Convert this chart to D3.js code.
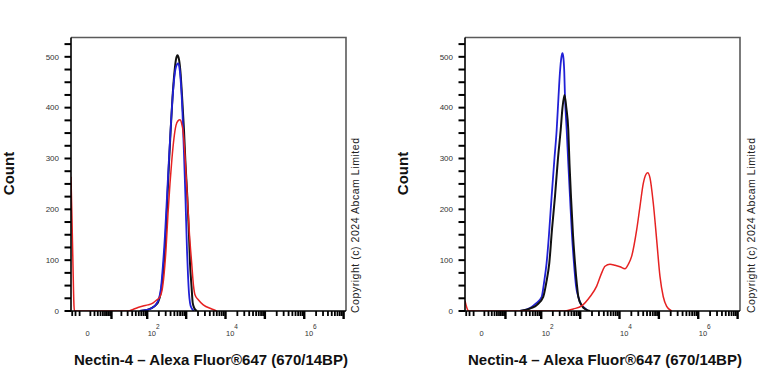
<!DOCTYPE html>
<html>
<head>
<meta charset="utf-8">
<script src="https://cdn.jsdelivr.net/npm/d3@7"></script>
<style>
body { margin:0; background:#fff; }
svg { display:block; font-family: Arial, "Liberation Sans", sans-serif; }
</style>
</head>
<body>
<div id="chart"></div>
<script>
// axis ticks and labels
var yTickValues = [0, 100, 200, 300, 400, 500];
var xLabelValues = [0, 1e2, 1e4, 1e6];
var xLabelExps = ["", "2", "4", "6"];
var xAxisTitle = "Nectin-4 \u2013 Alexa Fluor\u00ae647 (670/14BP)";
var yAxisTitle = "Count";
var copyright = "Copyright (c) 2024 Abcam Limited";

// left panel: [intensity, count]
var leftBlack = [[64,0],[96,2],[133,6],[169,12],[193,18],[223,35],[260,80],[296,140],[333,225],[364,290],
  [402,356],[448,420],[503,470],[550,495],[600,503],[656,495],[716,470],[782,425],[880,356],[961,290],
  [1069,225],[1180,150],[1252,94],[1366,50],[1467,16],[1629,5],[1886,0]];
var leftBlue = [[64,0],[98,2],[133,6],[169,13],[196,22],[227,45],[255,90],[288,150],[324,225],[364,300],
  [410,370],[461,430],[518,470],[583,485],[629,487],[675,478],[738,445],[805,390],[880,310],[961,220],
  [1049,120],[1114,70],[1180,35],[1252,16],[1366,6],[1582,0]];
var leftRed = [[-3.42,264],[-3.07,180],[-2.75,90],[-2.44,10],[-2.29,0],[31,0],[42,3],[57,7],[78,10],
  [104,12],[143,16],[179,22],[214,28],[241,40],[271,70],[305,120],[343,190],[386,250],[434,300],
  [489,340],[550,365],[618,374],[695,376],[760,370],[844,350],[933,305],[1069,225],[1215,150],
  [1382,94],[1536,50],[1676,32],[2033,22],[2726,12],[4457,4],[5970,0]];

// right panel
var rightBlue = [[27,0],[56,8],[73,15],[103,28],[118,55],[138,94],[159,150],[186,225],[220,300],[251,356],
  [279,420],[305,470],[333,500],[354,507],[375,497],[393,470],[410,421],[453,356],[498,290],[550,225],
  [618,150],[695,94],[782,50],[896,28],[1019,15],[1201,8],[1609,0]];
var rightBlack = [[27,0],[56,6],[77,12],[113,28],[135,55],[162,94],[190,160],[227,225],[271,300],[318,356],
  [354,400],[398,425],[443,400],[498,356],[534,290],[583,225],[656,150],[738,94],[830,50],[896,28],
  [1114,10],[1406,3],[1776,0]];
var rightRed = [[-3.42,20],[-3.07,12],[-2.6,3],[-2.15,0],[410,0],[667,4],[1093,10],[1776,28],[2632,49],
  [3528,75],[4280,88],[5732,92],[7686,90],[10300,87],[13795,83],[16738,92],[20413,108],[27350,160],
  [33165,206],[40215,251],[47105,269],[52000,272],[59500,262],[72175,212],[87970,140],[106700,68],
  [129400,28],[157900,9],[211600,0]];

var width = 768, height = 384;
var pw = 275, ph = 273.5, top0 = 37.5;

var svg = d3.select("#chart").append("svg")
    .attr("width", width)
    .attr("height", height);

var x = d3.scaleSymlog().constant(2.7)
    .domain([-3.42, 1.15e7])
    .range([0, pw]);

var y = d3.scaleLinear()
    .domain([0, 538])
    .range([ph, 0]);

var line = d3.line()
    .x(function(d) { return x(d[0]); })
    .y(function(d) { return y(d[1]); })
    .curve(d3.curveMonotoneX);

var majorX = [10, 1e2, 1e3, 1e4, 1e5, 1e6, 1e7];
var minorX = [-3, -2, -1, 1, 2, 3, 4, 5, 6, 7, 8, 9];
for (var k = 1; k <= 6; k++) {
    for (var m = 2; m <= 9; m++) minorX.push(m * Math.pow(10, k));
}
var minorY = d3.range(0, 538, 25);

var panels = [
    {id: "p1", left: 71, titleX: 211, countX: 13.5, copyX: 358.5,
     curves: [{d: leftBlack, c: "#111", w: 2}, {d: leftBlue, c: "#2121d6", w: 1.8}, {d: leftRed, c: "#e62222", w: 1.5}]},
    {id: "p2", left: 465, titleX: 605, countX: 408, copyX: 754.5,
     curves: [{d: rightBlue, c: "#2121d6", w: 1.8}, {d: rightBlack, c: "#111", w: 2}, {d: rightRed, c: "#e62222", w: 1.5}]}
];

panels.forEach(function(p) {
    var g = svg.append("g").attr("transform", "translate(" + p.left + "," + top0 + ")");

    g.append("clipPath").attr("id", "clip-" + p.id)
        .append("rect").attr("x", 0).attr("y", -2).attr("width", pw).attr("height", ph + 2);

    // frame top/right
    g.append("path")
        .attr("d", "M0,0H" + pw + "V" + ph)
        .attr("fill", "none").attr("stroke", "#5a5a5a").attr("stroke-width", 1.6);

    // curves
    var cg = g.append("g").attr("clip-path", "url(#clip-" + p.id + ")");
    p.curves.forEach(function(c) {
        cg.append("path")
            .attr("d", line(c.d))
            .attr("fill", "none")
            .attr("stroke", c.c)
            .attr("stroke-width", c.w)
            .attr("stroke-linejoin", "round");
    });

    // y ticks
    g.selectAll("rect.ytick").data(minorY).enter().append("rect")
        .attr("class", "ytick")
        .attr("x", -6.5).attr("width", 6.5)
        .attr("y", function(d) { return y(d) - 1; }).attr("height", 2)
        .attr("fill", "#000");
    g.selectAll("text.ylab").data(yTickValues).enter().append("text")
        .attr("class", "ylab")
        .attr("x", -12).attr("y", function(d) { return y(d) + 2.7; })
        .attr("text-anchor", "end")
        .attr("font-size", 8).attr("fill", "#333")
        .text(function(d) { return d; });

    // x ticks
    g.selectAll("rect.xminor").data(minorX).enter().append("rect")
        .attr("class", "xminor")
        .attr("x", function(d) { return x(d) - 0.9; }).attr("width", 1.8)
        .attr("y", ph).attr("height", 5)
        .attr("fill", "#000");
    g.selectAll("rect.xmajor").data(majorX).enter().append("rect")
        .attr("class", "xmajor")
        .attr("x", function(d) { return x(d) - 1.2; }).attr("width", 2.4)
        .attr("y", ph).attr("height", 8)
        .attr("fill", "#000");

    var lab = g.selectAll("text.xlab").data(xLabelValues).enter().append("text")
        .attr("class", "xlab")
        .attr("x", function(d) { return x(d) + 0.5; })
        .attr("y", 335.5 - top0)
        .attr("font-size", 7.5).attr("fill", "#333");
    lab.append("tspan").text(function(d, i) { return i === 0 ? "0" : "10"; });
    lab.append("tspan")
        .attr("dy", -7).attr("font-size", 6.5)
        .text(function(d, i) { return xLabelExps[i]; });

    // axis lines
    g.append("path")
        .attr("d", "M0,0V" + ph + "H" + pw)
        .attr("fill", "none").attr("stroke", "#000").attr("stroke-width", 1.6);

    // titles
    svg.append("text")
        .attr("x", p.titleX).attr("y", 365)
        .attr("text-anchor", "middle")
        .attr("font-size", 15).attr("font-weight", "bold").attr("fill", "#111")
        .text(xAxisTitle);
    svg.append("text")
        .attr("transform", "translate(" + p.countX + ",173.5) rotate(-90)")
        .attr("text-anchor", "middle")
        .attr("font-size", 15).attr("font-weight", "bold").attr("fill", "#111")
        .text(yAxisTitle);
    svg.append("text")
        .attr("transform", "translate(" + p.copyX + ",313) rotate(-90)")
        .attr("font-size", 10.5).attr("fill", "#222")
        .attr("textLength", 175).attr("lengthAdjust", "spacing")
        .text(copyright);
});
</script>
</body>
</html>
